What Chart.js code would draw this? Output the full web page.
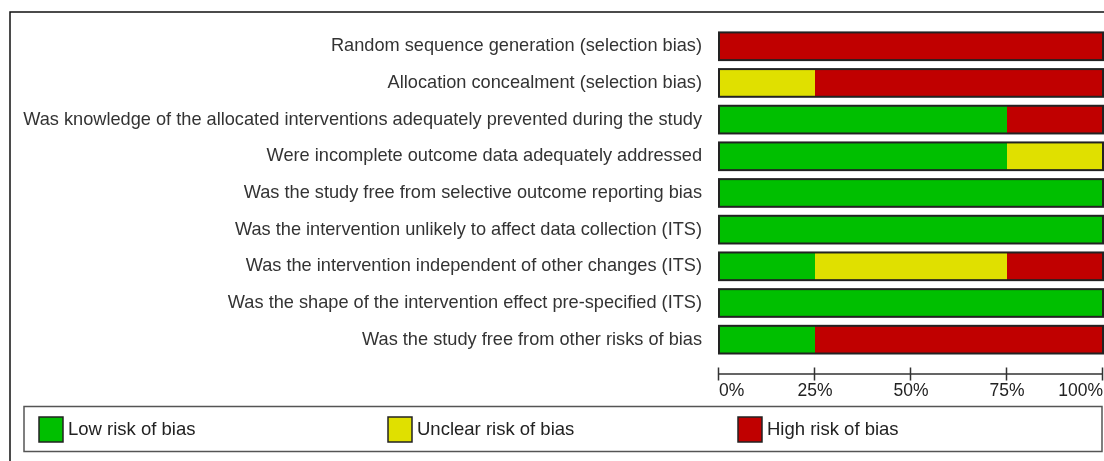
<!DOCTYPE html>
<html>
<head>
<meta charset="utf-8">
<script src="https://cdn.jsdelivr.net/npm/chart.js@4/dist/chart.umd.min.js"></script>
<style>
html,body{margin:0;padding:0;background:#fff;}
#wrap{position:relative;width:1104px;height:461px;}
</style>
</head>
<body>
<div id="wrap"><canvas id="c" width="1104" height="461"></canvas></div>
<script>
const categories = [
  "Random sequence generation (selection bias)",
  "Allocation concealment (selection bias)",
  "Was knowledge of the allocated interventions adequately prevented during the study",
  "Were incomplete outcome data adequately addressed",
  "Was the study free from selective outcome reporting bias",
  "Was the intervention unlikely to affect data collection (ITS)",
  "Was the intervention independent of other changes (ITS)",
  "Was the shape of the intervention effect pre-specified (ITS)",
  "Was the study free from other risks of bias"
];
const lowRisk     = [0, 0, 75, 75, 100, 100, 25, 100, 25];
const unclearRisk = [0, 25, 0, 25, 0, 0, 50, 0, 0];
const highRisk    = [100, 75, 25, 0, 0, 0, 25, 0, 75];
const seriesNames = ["Low risk of bias", "Unclear risk of bias", "High risk of bias"];
const tickValues  = [0, 25, 50, 75, 100];
const tickLabels  = ["0%", "25%", "50%", "75%", "100%"];

const FONT = "'Liberation Sans', Arial, sans-serif";

const framePlugin = {
  id: 'frame',
  beforeDraw(chart) {
    const ctx = chart.ctx;
    ctx.save();
    ctx.fillStyle = '#fff';
    ctx.fillRect(0, 0, chart.width, chart.height);
    ctx.strokeStyle = '#111';
    ctx.lineWidth = 1.5;
    ctx.strokeRect(10, 12, 1200, 600);
    ctx.restore();
  },
  afterDatasetsDraw(chart) {
    const ctx = chart.ctx;
    const x = chart.scales.x;
    const meta = chart.getDatasetMeta(0);
    const x0 = x.getPixelForValue(0), x1 = x.getPixelForValue(100);
    ctx.save();
    ctx.strokeStyle = '#222';
    ctx.lineWidth = 2;
    meta.data.forEach(bar => {
      const h = bar.height;
      ctx.strokeRect(x0, bar.y - h / 2, x1 - x0, h);
    });
    // x axis
    const ay = 374;
    ctx.strokeStyle = '#333';
    ctx.lineWidth = 1.5;
    ctx.beginPath();
    ctx.moveTo(x0, ay); ctx.lineTo(x1, ay);
    tickValues.forEach(v => {
      const px = Math.round(x.getPixelForValue(v)) - 0.5;
      ctx.moveTo(px, ay - 6.5); ctx.lineTo(px, ay + 6.5);
    });
    ctx.stroke();
    ctx.fillStyle = '#222';
    ctx.font = '17.5px ' + FONT;
    ctx.textBaseline = 'alphabetic';
    tickValues.forEach((v, i) => {
      const px = x.getPixelForValue(v);
      ctx.textAlign = i === 0 ? 'left' : (i === tickValues.length - 1 ? 'right' : 'center');
      ctx.fillText(tickLabels[i], px, 396);
    });
    // legend
    ctx.strokeStyle = '#555';
    ctx.lineWidth = 1.5;
    ctx.strokeRect(24, 406.5, 1078, 45);
    const lx = [39, 388, 738];
    ctx.font = '18.5px ' + FONT;
    ctx.textAlign = 'left';
    ctx.textBaseline = 'middle';
    chart.data.datasets.forEach((ds, i) => {
      ctx.fillStyle = ds.backgroundColor;
      ctx.fillRect(lx[i], 417, 24, 25);
      ctx.strokeStyle = '#222';
      ctx.lineWidth = 1.5;
      ctx.strokeRect(lx[i], 417, 24, 25);
      ctx.fillStyle = '#222';
      ctx.fillText(ds.label, lx[i] + 29, 430);
    });
    ctx.restore();
  }
};

new Chart(document.getElementById('c'), {
  type: 'bar',
  data: {
    labels: categories,
    datasets: [
      { label: seriesNames[0], data: lowRisk, backgroundColor: '#00BF00' },
      { label: seriesNames[1], data: unclearRisk, backgroundColor: '#E0E000' },
      { label: seriesNames[2], data: highRisk, backgroundColor: '#C00000' }
    ]
  },
  options: {
    indexAxis: 'y',
    responsive: false,
    animation: false,
    devicePixelRatio: 1,
    layout: { padding: { left: 10, right: 1, top: 23, bottom: 103 } },
    datasets: { bar: { categoryPercentage: 1, barPercentage: 0.755, borderWidth: 0 } },
    plugins: { legend: { display: false }, tooltip: { enabled: false } },
    scales: {
      x: { stacked: true, min: 0, max: 100, display: false },
      y: {
        stacked: true,
        grid: { display: false, drawTicks: false },
        border: { display: false },
        afterFit(scale) { scale.width = 709; },
        ticks: {
          padding: 17,
          color: '#333',
          font: { family: FONT, size: 18.2 },
          autoSkip: false
        }
      }
    }
  },
  plugins: [framePlugin]
});
</script>
</body>
</html>
